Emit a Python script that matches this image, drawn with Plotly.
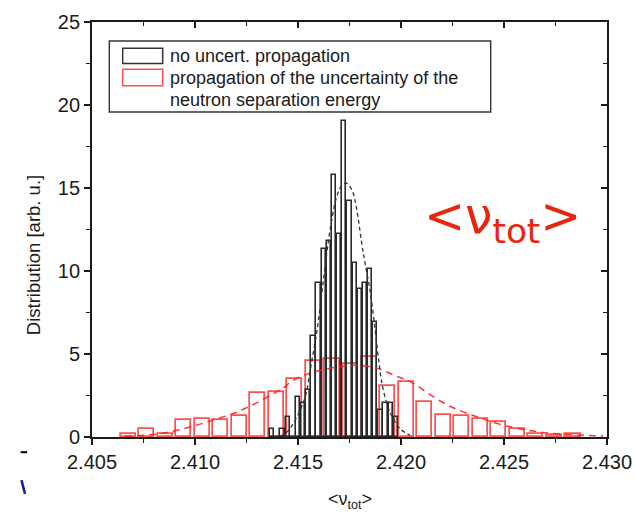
import plotly.graph_objects as go

# ---------------- data ----------------
# black histogram (no uncertainty propagation), bin width 0.00025
black_centers = [2.41375 + 0.00025 * k for k in range(25)]
black_values = [0.47, 0.0, 0.47, 1.2, 0.0, 2.4, 2.05, 2.85, 6.1, 9.3, 11.35, 11.8,
                15.8, 12.2, 19.05, 14.2, 10.5, 8.9, 9.3, 10.1, 6.9, 1.65, 2.07, 2.07, 1.2]

# red histogram (propagation of Sn uncertainty), bin width 0.0009
red_centers = [2.40675 + 0.0009 * k for k in range(25)]
red_values = [0.2, 0.46, 0.2, 1.0, 1.1, 1.0, 1.25, 2.65, 2.7, 3.5, 4.6, 4.7, 4.4,
              4.8, 3.05, 3.3, 2.1, 1.35, 1.25, 1.1, 0.9, 0.5, 0.2, 0.1, 0.2]

# dashed fit curves
black_fit_x = [2.41413, 2.41447, 2.41476, 2.41510, 2.41539, 2.41563, 2.41591, 2.41614,
               2.41639, 2.41660, 2.41684, 2.41709, 2.41731, 2.41761, 2.41785, 2.41809,
               2.41825, 2.41850, 2.41874, 2.41890, 2.41908, 2.41937, 2.41963, 2.41995,
               2.42044]
black_fit_y = [0.05, 0.3, 0.8, 1.6, 2.6, 4.3, 6.3, 8.5, 11.0, 12.8, 14.3, 15.1, 15.3,
               14.9, 13.7, 11.7, 10.5, 8.8, 6.5, 4.8, 3.2, 1.8, 1.1, 0.5, 0.1]

red_fit_x = [2.40660, 2.40830, 2.40976, 2.41107, 2.41194, 2.41282, 2.41364, 2.41427,
             2.41476, 2.41558, 2.41641, 2.41738, 2.41801, 2.41884, 2.41961, 2.42058,
             2.42141, 2.42238, 2.42384, 2.42495, 2.42660, 2.42820, 2.42981]
red_fit_y = [0.05, 0.2, 0.6, 1.1, 1.45, 1.95, 2.5, 2.95, 3.4, 3.85, 4.1, 4.3, 4.3,
             4.15, 3.75, 3.25, 2.55, 1.85, 1.15, 0.72, 0.32, 0.15, 0.06]

legend_labels = ["no uncert. propagation",
                 "propagation of the uncertainty of the",
                 "neutron separation energy"]

x_range = [2.405, 2.430]
y_range = [0, 25]

# ---------------- figure ----------------
fig = go.Figure()

fig.add_trace(go.Bar(
    x=red_centers, y=red_values, width=0.00073,
    marker=dict(color="rgba(0,0,0,0)", line=dict(color="rgba(255,35,35,0.8)", width=1.7)),
    showlegend=False))

fig.add_trace(go.Bar(
    x=black_centers, y=black_values, width=0.000205,
    marker=dict(color="rgba(0,0,0,0)", line=dict(color="#2a2a2a", width=1.6)),
    showlegend=False))

fig.add_trace(go.Scatter(
    x=red_fit_x, y=red_fit_y, mode="lines", line_shape="spline",
    line=dict(color="rgba(255,30,30,0.9)", width=1.5, dash="7px,5px"),
    showlegend=False))

fig.add_trace(go.Scatter(
    x=black_fit_x, y=black_fit_y, mode="lines", line_shape="spline",
    line=dict(color="#333333", width=1.3, dash="4px,3px"),
    showlegend=False))

# empty trace to activate the mirrored (top/right) axes
fig.add_trace(go.Scatter(x=[], y=[], xaxis="x2", yaxis="y2", showlegend=False))

axis_font = dict(family="Liberation Sans, Arial, sans-serif", size=20, color="#1a1a1a")
ax_col = "#1a1a1a"

fig.update_layout(
    width=635, height=513,
    margin=dict(l=92, r=28, t=22, b=76, autoexpand=False),
    paper_bgcolor="white", plot_bgcolor="white",
    barmode="overlay", bargap=0,
    font=axis_font,
    xaxis=dict(range=x_range, dtick=0.005, tick0=2.405, tickformat=".3f",
               automargin=False,
               showgrid=False, zeroline=False,
               showline=True, linecolor=ax_col, linewidth=1.8,
               ticks="outside", ticklen=6, tickwidth=1.5, tickcolor=ax_col,
               minor=dict(dtick=0.0025, ticks="outside", ticklen=4,
                          tickwidth=1.3, tickcolor=ax_col),
               tickfont=axis_font),
    yaxis=dict(range=y_range, dtick=5, tick0=0, automargin=False,
               showgrid=False, zeroline=False,
               showline=True, linecolor=ax_col, linewidth=1.8,
               ticks="outside", ticklen=6, tickwidth=1.5, tickcolor=ax_col,
               minor=dict(dtick=2.5, ticks="outside", ticklen=4,
                          tickwidth=1.3, tickcolor=ax_col),
               tickfont=axis_font),
    xaxis2=dict(range=x_range, overlaying="x", side="top", matches="x",
                automargin=False,
                dtick=0.005, tick0=2.405, showticklabels=False,
                showgrid=False, zeroline=False,
                showline=True, linecolor=ax_col, linewidth=1.8,
                ticks="inside", ticklen=6, tickwidth=1.5, tickcolor=ax_col,
                minor=dict(dtick=0.0025, ticks="inside", ticklen=4,
                           tickwidth=1.3, tickcolor=ax_col)),
    yaxis2=dict(range=y_range, overlaying="y", side="right", matches="y",
                automargin=False,
                dtick=5, tick0=0, showticklabels=False,
                showgrid=False, zeroline=False,
                showline=True, linecolor=ax_col, linewidth=1.8,
                ticks="inside", ticklen=6, tickwidth=1.5, tickcolor=ax_col,
                minor=dict(dtick=2.5, ticks="inside", ticklen=4,
                           tickwidth=1.3, tickcolor=ax_col)),
)

# ---------------- legend (drawn manually to match rectangular swatches) ----------------
shapes = [
    dict(type="rect", xref="x domain", yref="y domain", x0=0.0336, x1=0.7742, y0=0.7831, y1=0.9542,
         line=dict(color="#333333", width=1.4), fillcolor="white", layer="above"),
    dict(type="rect", xref="x domain", yref="y domain", x0=0.0596, x1=0.1373, y0=0.9002, y1=0.9366,
         line=dict(color="#333333", width=1.5), layer="above"),
    dict(type="rect", xref="x domain", yref="y domain", x0=0.0596, x1=0.1373, y0=0.8465, y1=0.8860,
         line=dict(color="rgba(255,35,35,0.8)", width=1.5), layer="above"),
    # small slide artifacts at far left
    dict(type="line", xref="paper", yref="paper", x0=-0.1386, x1=-0.1260, y0=-0.0366, y1=-0.0366,
         line=dict(color="black", width=2)),
    dict(type="line", xref="paper", yref="paper", x0=-0.1370, x1=-0.1300, y0=-0.1040, y1=-0.1370,
         line=dict(color="#1a1aa0", width=2.5)),
]
fig.update_layout(shapes=shapes)

legend_font = dict(family="Liberation Sans, Arial, sans-serif", size=18, color="#1a1a1a")
ann = []
for lab, yy in zip(legend_labels, [0.9188, 0.8658, 0.8120]):
    ann.append(dict(xref="x domain", yref="y domain", x=0.1482, y=yy, text=lab,
                    showarrow=False, xanchor="left", yanchor="middle", font=legend_font))

# axis titles
ann.append(dict(xref="x domain", yref="y domain", x=-0.1146, y=0.438,
                text="Distribution [arb. u.]", textangle=-90, showarrow=False,
                xanchor="center", yanchor="middle",
                font=dict(family="Liberation Sans, Arial, sans-serif", size=18.5, color="#1a1a1a")))
ann.append(dict(xref="x domain", yref="y domain", x=0.5, y=-0.152,
                text="&lt;ν<sub>tot</sub>&gt;", showarrow=False,
                xanchor="center", yanchor="middle",
                font=dict(family="Liberation Sans, Arial, sans-serif", size=18, color="#1a1a1a")))

# big red label
ann.append(dict(xref="x domain", yref="y domain", x=0.798, y=0.525,
                text="&lt;ν<sub>tot</sub>&gt;", showarrow=False,
                xanchor="center", yanchor="middle",
                font=dict(family="DejaVu Sans, Verdana, sans-serif", size=49, color="#e8260e")))

fig.update_layout(annotations=ann)

fig.write_html("out.html")
